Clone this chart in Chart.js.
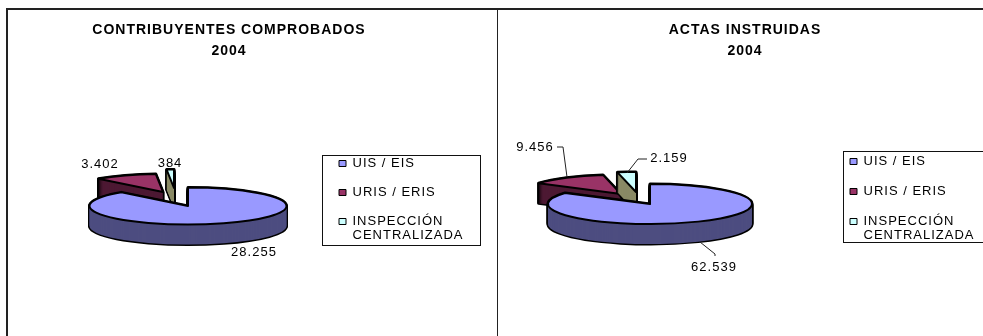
<!DOCTYPE html>
<html><head><meta charset="utf-8">
<style>
html,body{margin:0;padding:0;background:#fff;width:983px;height:336px;overflow:hidden}
canvas{position:absolute;top:0}
.ln{position:absolute;background:#222}
</style>
<script src="https://cdn.jsdelivr.net/npm/chart.js@4"></script>
</head><body>
<div class="ln" style="left:6px;top:8px;width:2px;height:328px"></div>
<div class="ln" style="left:497px;top:8px;width:1px;height:328px"></div>
<div class="ln" style="left:6px;top:8px;width:977px;height:2px"></div>
<canvas id="c1" width="498" height="336" style="left:0;width:498px;height:336px"></canvas>
<canvas id="c2" width="520" height="336" style="left:498px;width:520px;height:336px"></canvas>
<script>
const categories = ['UIS / EIS', 'URIS / ERIS', ['INSPECCIÓN', 'CENTRALIZADA']];
const titleLeft = ['CONTRIBUYENTES COMPROBADOS', '2004'];
const titleRight = ['ACTAS INSTRUIDAS', '2004'];
const valuesLeft = [28255, 3402, 384];
const valuesRight = [62539, 9456, 2159];
const topColors = ['#9999FF', '#993366', '#CCFFFF'];
const wallColors = ['#4D4D80', '#4D1933', '#8A8A66'];

const FONT = '"Liberation Sans", Arial, sans-serif';
const fmt = v => String(v).replace(/\B(?=(\d{3})+$)/g, '.');

const pie3d = {
  id: 'pie3d',
  beforeDraw(chart, _a, o) {
    const ctx = chart.ctx;
    ctx.letterSpacing = '1px';
    ctx.save();
    ctx.strokeStyle = '#111'; ctx.lineWidth = 1;
    const b = o.legendBox;
    ctx.fillStyle = '#fff';
    ctx.fillRect(b.x, b.y, b.w, b.h);
    ctx.strokeRect(b.x + .5, b.y + .5, b.w, b.h);
    ctx.restore();
  },
  afterLayout(chart, _a, o) {
    const t = chart.titleBlock, l = chart.legend;
    t.left = o.titleX - 240; t.right = o.titleX + 240; t.top = o.titleTop; t.bottom = t.top + 42;
    l.left = o.legendX; l.right = o.legendX + 170; l.top = o.legendY; l.bottom = o.legendY + 130;
  },
  beforeDatasetDraw(chart, _a, o) {
    const ctx = chart.ctx;
    const arcs = chart.getDatasetMeta(0).data;
    ctx.stroke = function () {
      ctx.save(); ctx.setTransform(1, 0, 0, 1, 0, 0); CanvasRenderingContext2D.prototype.stroke.call(ctx); ctx.restore();
    };
    const base = { borderAlign: 'center', borderJoinStyle: 'round', offset: 0, spacing: 0, borderRadius: 0, circular: true, borderDash: [] };
    const paint = (arc, i, dy, opt) => {
      const R = arc.outerRadius, s = o.shift[i], k = o.scale[i];
      const saved = arc.options;
      arc.options = { ...base, ...opt };
      ctx.save();
      ctx.translate(o.cx + s[0], o.cy + s[1] + dy);
      ctx.scale(o.rx / R * k, o.ry / R * k);
      ctx.translate(-arc.x, -arc.y);
      arc.draw(ctx);
      ctx.restore();
      arc.options = saved;
    };
    for (const i of [1, 2, 0]) {
      const arc = arcs[i];
      for (let d = o.depth; d >= 0; d--)
        paint(arc, i, d, { backgroundColor: 'rgba(0,0,0,0)', borderColor: '#000', borderWidth: 3 });
      for (let d = o.depth; d >= 0; d--)
        paint(arc, i, d, { backgroundColor: wallColors[i], borderColor: wallColors[i], borderWidth: 0 });
      paint(arc, i, 0, { backgroundColor: topColors[i], borderColor: '#000', borderWidth: 2 });
    }
    delete ctx.stroke;
    return false;
  },
  afterDraw(chart, _a, o) {
    const ctx = chart.ctx, vals = chart.data.datasets[0].data;
    ctx.save();
    ctx.strokeStyle = '#222'; ctx.lineWidth = 1;
    for (const p of o.leaders) {
      ctx.beginPath();
      p.forEach((q, i) => i ? ctx.lineTo(q[0], q[1]) : ctx.moveTo(q[0], q[1]));
      ctx.stroke();
    }
    ctx.fillStyle = '#000'; ctx.font = '13px ' + FONT;
    ctx.textAlign = 'center'; ctx.textBaseline = 'middle';
    vals.forEach((v, i) => ctx.fillText(fmt(v), o.labels[i][0], o.labels[i][1]));
    ctx.restore();
  }
};

function make(id, title, values, geo, pad) {
  return new Chart(document.getElementById(id), {
    type: 'pie',
    data: { labels: categories, datasets: [{ data: values, backgroundColor: topColors, borderColor: '#000', borderWidth: 1 }] },
    options: {
      responsive: false, animation: false, events: [],
      plugins: {
        tooltip: { enabled: false },
        title: { display: true, text: title, color: '#000', padding: 0,
                 font: { family: FONT, size: 14, weight: 'bold', lineHeight: 1.5 } },
        legend: { display: true, position: 'right', align: 'start',
                  labels: { color: '#000', boxWidth: 7, boxHeight: 6, padding: pad,
                            font: { family: FONT, size: 13, lineHeight: 14 / 13 } } },
        pie3d: geo
      }
    },
    plugins: [pie3d]
  });
}

make('c1', titleLeft, valuesLeft, {
  cx: 188, cy: 206, rx: 98.5, ry: 18.5, depth: 20,
  shift: [[0, 0], [-25, -14], [-14, -18]], scale: [1, .97, 1],
  titleX: 229, titleTop: 20,
  legendBox: { x: 322, y: 155, w: 158, h: 90 }, legendX: 339 - 16, legendY: 141,
  labels: [[254, 252], [100, 164], [170, 163]],
  leaders: []
}, 16);

make('c2', titleRight, valuesRight, {
  cx: 152, cy: 204, rx: 102, ry: 20, depth: 20,
  shift: [[0, 0], [-29, -10], [-14, -12]], scale: [1, .97, 1],
  titleX: 247, titleTop: 20,
  legendBox: { x: 345, y: 151, w: 190, h: 91 }, legendX: 352 - 17, legendY: 138,
  labels: [[216, 267], [37, 147], [171, 158]],
  leaders: [[[59, 147], [65, 147], [69, 177]], [[149, 159], [140, 159], [129, 173]], [[217, 256], [217, 254], [202, 242]]]
}, 17);
</script>
</body></html>
